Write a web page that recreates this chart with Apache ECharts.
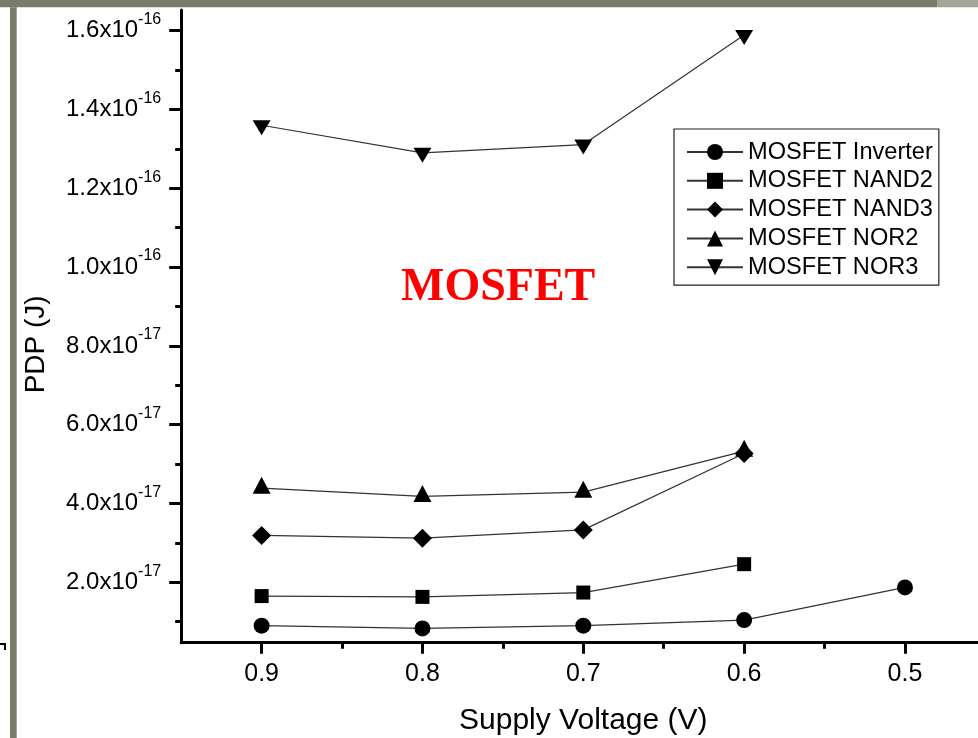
<!DOCTYPE html>
<html>
<head>
<meta charset="utf-8">
<script src="https://cdn.jsdelivr.net/npm/echarts@6/dist/echarts.min.js"></script>
<style>
html,body{margin:0;padding:0;background:#fff;}
#chart{width:978px;height:738px;}
</style>
</head>
<body>
<div id="chart"></div>
<script>
// ---- data ----
const voltages = [0.9, 0.8, 0.7, 0.6, 0.5];
const seriesNames = ['MOSFET Inverter', 'MOSFET NAND2', 'MOSFET NAND3', 'MOSFET NOR2', 'MOSFET NOR3'];
const inverter = [0.90e-17, 0.83e-17, 0.90e-17, 1.04e-17, 1.87e-17];
const nand2    = [1.65e-17, 1.63e-17, 1.74e-17, 2.46e-17, null];
const nand3    = [3.19e-17, 3.12e-17, 3.33e-17, 5.27e-17, null];
const nor2     = [4.39e-17, 4.18e-17, 4.29e-17, 5.33e-17, null];
const nor3     = [13.60e-17, 12.90e-17, 13.11e-17, 15.89e-17, null];

const xMajorTicks = [0.9, 0.8, 0.7, 0.6, 0.5];
const xMinorTicks = [0.85, 0.75, 0.65, 0.55];
const yMajorTicks = [2.0e-17, 4.0e-17, 6.0e-17, 8.0e-17, 1.0e-16, 1.2e-16, 1.4e-16, 1.6e-16];
const yMinorTicks = [1.0e-17, 3.0e-17, 5.0e-17, 7.0e-17, 9.0e-17, 1.1e-16, 1.3e-16, 1.5e-16];
const yTickMantissa = ['2.0', '4.0', '6.0', '8.0', '1.0', '1.2', '1.4', '1.6'];
const yTickExponent = ['-17', '-17', '-17', '-17', '-16', '-16', '-16', '-16'];

// ---- helpers ----
function pairs(vals) {
  const out = [];
  vals.forEach((v, i) => { if (v !== null) out.push([voltages[i], v]); });
  return out;
}
function yLabel(value) {
  let idx = -1;
  yMajorTicks.forEach((t, i) => { if (Math.abs(value - t) < t * 1e-6) idx = i; });
  if (idx < 0) return '';
  return '{m|' + yTickMantissa[idx] + 'x10}{e|' + yTickExponent[idx] + '}';
}

const FONT = 'Liberation Sans, Arial, sans-serif';
const yMin = 0.467e-17, yMax = 1.6525e-16;
const xMin = 0.45, xMax = 0.95;

const lineStyle = { color: '#333', width: 1.2 };
const symbols = [
  { symbol: 'circle', size: 16, offset: [0, 0] },
  { symbol: 'rect', size: 14, offset: [0, 0] },
  { symbol: 'diamond', size: [19, 19], offset: [0, 0] },
  { symbol: 'triangle', size: [18, 17], offset: [0, -2.8] },
  { symbol: 'path://M0,0 L2,0 L1,2 Z', size: [18, 15], offset: [0, 2.5] }
];
const allValues = [inverter, nand2, nand3, nor2, nor3];

const series = allValues.map((vals, i) => ({
  name: seriesNames[i],
  type: 'line',
  data: pairs(vals),
  xAxisIndex: 0,
  yAxisIndex: 0,
  symbol: symbols[i].symbol,
  symbolSize: symbols[i].size,
  symbolOffset: symbols[i].offset,
  z: i === 2 ? 4 : 3,
  lineStyle: lineStyle,
  itemStyle: { color: '#000' },
  emphasis: { disabled: true },
  animation: false
}));

const chart = echarts.init(document.getElementById('chart'), null, { renderer: 'canvas' });
chart.setOption({
  animation: false,
  backgroundColor: '#fff',
  grid: { left: 181.2, right: -7.4, top: 10, bottom: 95.3, containLabel: false, outerBoundsMode: 'none' },
  xAxis: [
    {
      type: 'value', inverse: true, min: xMin, max: xMax,
      name: 'Supply Voltage (V)', nameLocation: 'middle', nameGap: 63,
      nameTextStyle: { fontFamily: FONT, fontSize: 30, color: '#000' },
      axisLine: { show: true, lineStyle: { color: '#000', width: 3 } },
      axisTick: { show: true, customValues: xMajorTicks, length: 11, lineStyle: { color: '#000', width: 3 } },
      axisLabel: { show: true, customValues: xMajorTicks, margin: 19, fontFamily: FONT, fontSize: 25, color: '#000',
        formatter: v => v.toFixed(1) },
      splitLine: { show: false }
    },
    {
      type: 'value', inverse: true, min: xMin, max: xMax, position: 'bottom',
      axisLine: { show: false },
      axisTick: { show: true, customValues: xMinorTicks, length: 6, lineStyle: { color: '#000', width: 3 } },
      axisLabel: { show: false },
      splitLine: { show: false }
    }
  ],
  yAxis: [
    {
      type: 'value', min: yMin, max: yMax,
      name: 'PDP (J)', nameLocation: 'middle', nameGap: 131,
      nameTextStyle: { fontFamily: FONT, fontSize: 28, color: '#000', padding: [0, 36, 0, 0] },
      axisLine: { show: true, lineStyle: { color: '#000', width: 3 } },
      axisTick: { show: true, customValues: yMajorTicks, length: 12, lineStyle: { color: '#000', width: 3 } },
      axisLabel: {
        show: true, customValues: yMajorTicks, margin: 20, formatter: yLabel,
        rich: {
          m: { fontFamily: FONT, fontSize: 24, color: '#000' },
          e: { fontFamily: FONT, fontSize: 16, color: '#000', padding: [0, 0, 22, 0] }
        }
      },
      splitLine: { show: false }
    },
    {
      type: 'value', min: yMin, max: yMax, position: 'left', offset: 0,
      axisLine: { show: false },
      axisTick: { show: true, customValues: yMinorTicks, length: 6, lineStyle: { color: '#000', width: 3 } },
      axisLabel: { show: false },
      splitLine: { show: false }
    }
  ],
  legend: {
    orient: 'vertical', left: 674, top: 129,
    data: seriesNames,
    itemWidth: 56, itemHeight: 20, itemGap: 4.8,
    padding: [11, 6, 6, 12],
    borderColor: '#222', borderWidth: 1.2,
    textStyle: { fontFamily: FONT, fontSize: 23.6, color: '#000' },
    selectedMode: false
  },
  graphic: [
    { type: 'rect', shape: { x: 0, y: 0, width: 937, height: 7.3 }, style: { fill: '#7a7b6d' }, silent: true },
    { type: 'rect', shape: { x: 937, y: 0, width: 41, height: 7.3 }, style: { fill: '#a5a59a' }, silent: true },
    { type: 'rect', shape: { x: 10, y: 7.3, width: 6.7, height: 731 }, style: { fill: '#7a7b6d' }, silent: true },
    { type: 'polyline', shape: { points: [[0, 644], [5, 644], [5, 650]] }, style: { stroke: '#000', lineWidth: 2, fill: null }, silent: true },
    { type: 'text', left: 401, top: 265, style: { text: 'MOSFET', fill: '#ff0000', font: 'bold 46px "Liberation Serif", "Times New Roman", serif' }, silent: true }
  ],
  series: series
});
</script>
</body>
</html>
